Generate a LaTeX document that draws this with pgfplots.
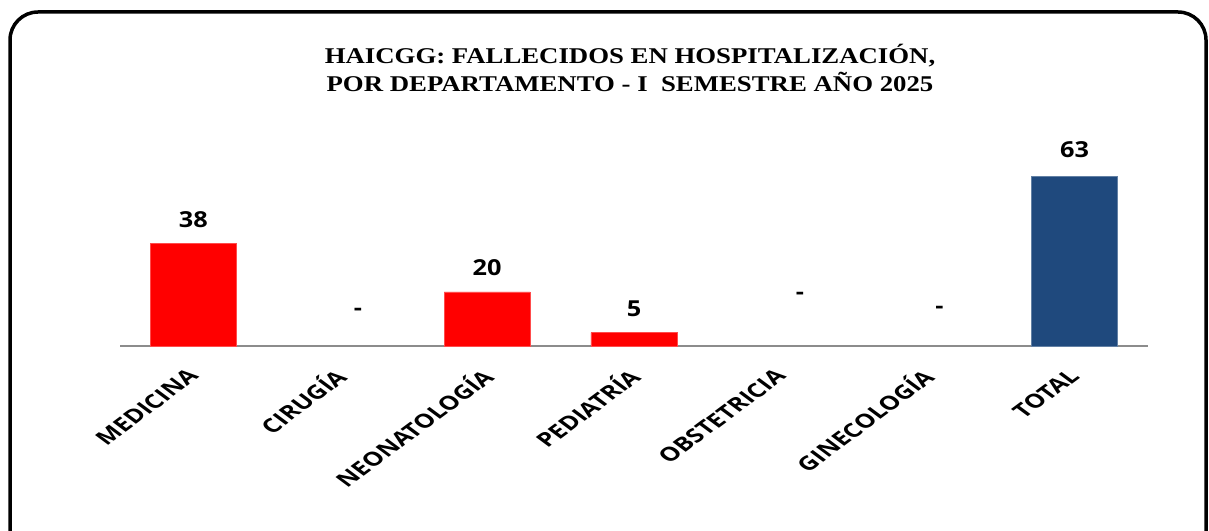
\documentclass[border=0pt]{standalone}
\usepackage{fontspec}
\setmainfont{Open Sans}
\newfontfamily\titlefont{Liberation Serif}
\usepackage{pgfplots}
\pgfplotsset{compat=1.18}
\definecolor{barred}{HTML}{FF0000}
\definecolor{barblue}{HTML}{1F497D}
\definecolor{axgray}{HTML}{8C8C8C}
\begin{document}
\begin{tikzpicture}[x=1pt,y=1pt]
\path[use as bounding box] (0,0) rectangle (1209,530);
\begin{scope}
\clip (0,0) rectangle (1209,530);
\draw[line width=3.5pt, rounded corners=28pt] (10,-40) rectangle (1206,518);
\end{scope}
\node[font=\titlefont\bfseries\fontsize{22.5}{28}\selectfont, align=center, xscale=1.19] at (630,462)
 {HAICGG: FALLECIDOS EN HOSPITALIZACIÓN,\\POR DEPARTAMENTO - I\ \ SEMESTRE AÑO 2025};
\begin{axis}[at={(120pt,184pt)}, anchor=south west, scale only axis,
  width=1028pt, height=270pt, xmin=-0.5, xmax=6.5, ymin=0, ymax=100,
  axis x line=bottom, axis y line=none,
  x axis line style={-, draw=axgray, line width=1.5pt},
  ytick=\empty, xtick={0,...,6},
  xticklabels={MEDICINA,CIRUGÍA,NEONATOLOGÍA,PEDIATRÍA,OBSTETRICIA,GINECOLOGÍA,TOTAL},
  major tick length=0pt,
  /pgf/number format/assume math mode=true,
  xticklabel style={font=\bfseries\fontsize{19.3}{19.3}\selectfont, xshift=3pt, yshift=-24pt, xscale=1.35, rotate=45, anchor=east},
  clip=false]
\addplot[ybar, bar width=86pt, bar shift=0pt, fill=barred, draw=barred!70!white,
  nodes near coords,
  every node near coord/.style={font=\bfseries\fontsize{22}{22}\selectfont, xscale=1.15, anchor=center, yshift=24pt}]
  coordinates {(0,38) (2,20) (3,5)};
\addplot[ybar, bar width=86pt, bar shift=0pt, fill=barblue, draw=barblue!70!white,
  nodes near coords,
  every node near coord/.style={font=\bfseries\fontsize{22}{22}\selectfont, xscale=1.15, anchor=center, yshift=26pt}]
  coordinates {(6,63)};
\addplot[only marks, mark=none, draw=none,
  nodes near coords={-},
  every node near coord/.style={font=\bfseries\fontsize{22}{22}\selectfont, xscale=1.15, anchor=center}]
  coordinates {(1.12,12.6) (4.13,18.5) (5.08,13.3)};
\end{axis}
\end{tikzpicture}
\end{document}
